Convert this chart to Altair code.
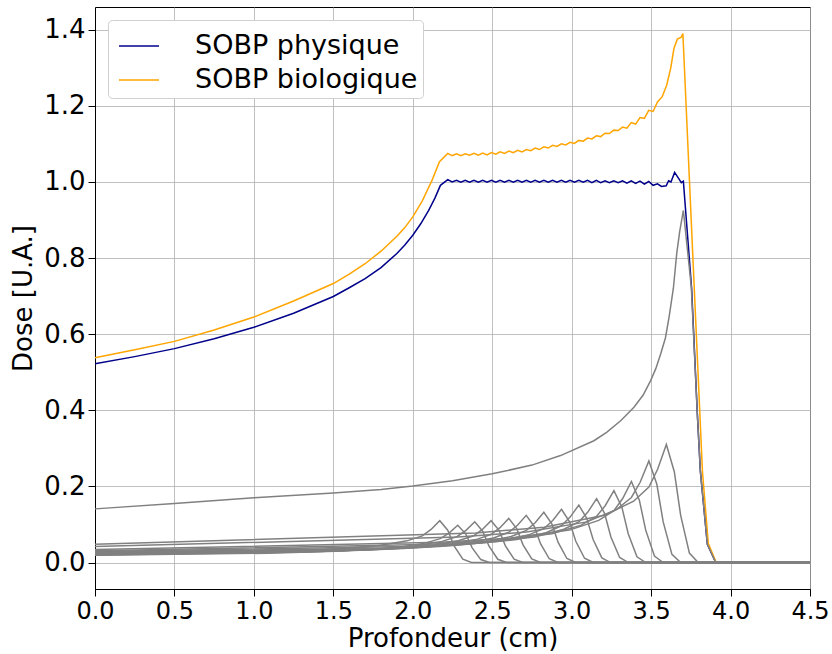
import altair as alt
import pandas as pd

# ---------------- data ----------------
SERIES = ["SOBP physique", "SOBP biologique"]
SERIES_COLORS = ["#00008b", "#ffa500"]

PLATEAU_X = [2.22, 2.2475, 2.275, 2.3025, 2.33, 2.3575, 2.385, 2.4125, 2.44, 2.4675,
             2.495, 2.5225, 2.55, 2.5775, 2.605, 2.6325, 2.66, 2.6875, 2.715, 2.7425,
             2.77, 2.7975, 2.825, 2.8525, 2.88, 2.9075, 2.935, 2.9625, 2.99, 3.0175,
             3.045, 3.0725, 3.1, 3.1275, 3.155, 3.1825, 3.21, 3.2375, 3.265, 3.2925,
             3.32, 3.3475, 3.375, 3.4025, 3.43, 3.4575, 3.485, 3.5125, 3.54]

BLUE_RISE_X = [0.0, 0.25, 0.5, 0.75, 1.0, 1.25, 1.5, 1.6, 1.7, 1.8, 1.9, 1.95, 2.0, 2.05, 2.1, 2.14, 2.174]
BLUE_RISE_Y = [0.522, 0.541, 0.562, 0.588, 0.618, 0.655, 0.699, 0.722, 0.746, 0.775, 0.812, 0.834,
               0.860, 0.890, 0.925, 0.958, 0.991]
BLUE_PLATEAU_Y = [1.006, 1.000, 1.004, 0.999, 1.004, 0.999, 1.004, 0.999, 1.004, 0.999,
                  1.004, 0.999, 1.004, 0.999, 1.004, 0.999, 1.004, 0.999, 1.004, 0.999,
                  1.004, 0.999, 1.004, 0.999, 1.004, 0.999, 1.004, 0.999, 1.004, 0.999,
                  1.004, 0.999, 1.004, 0.998, 1.004, 0.998, 1.003, 0.998, 1.003, 0.998,
                  1.003, 0.997, 1.003, 0.996, 1.002, 0.994, 1.001, 0.991, 0.995]
BLUE_END_X = [3.565, 3.595, 3.61, 3.625, 3.648, 3.675, 3.69, 3.703, 3.755, 3.791, 3.81, 3.854, 3.907, 4.5]
BLUE_END_Y = [0.988, 0.990, 1.003, 1.000, 1.025, 1.008, 0.998, 1.002, 0.72, 0.39, 0.24, 0.048, 0.0, 0.0]

ORANGE_RISE_X = [0.0, 0.25, 0.5, 0.75, 1.0, 1.25, 1.5, 1.6, 1.7, 1.8, 1.9, 1.95, 2.0, 2.06, 2.121, 2.168]
ORANGE_RISE_Y = [0.538, 0.559, 0.581, 0.611, 0.645, 0.687, 0.733, 0.758, 0.785, 0.818, 0.857, 0.880,
                 0.908, 0.950, 1.004, 1.053]
ORANGE_PLATEAU_Y = [1.075, 1.069, 1.074, 1.069, 1.074, 1.070, 1.075, 1.070, 1.076, 1.071,
                    1.077, 1.073, 1.079, 1.075, 1.081, 1.077, 1.083, 1.079, 1.085, 1.082,
                    1.089, 1.085, 1.092, 1.089, 1.096, 1.093, 1.100, 1.097, 1.104, 1.101,
                    1.109, 1.107, 1.115, 1.113, 1.121, 1.119, 1.128, 1.127, 1.136, 1.135,
                    1.144, 1.141, 1.156, 1.152, 1.169, 1.167, 1.188, 1.185, 1.210]
ORANGE_END_X = [3.57, 3.598, 3.623, 3.644, 3.665, 3.69, 3.70, 3.823, 3.86, 3.91, 4.5]
ORANGE_END_Y = [1.224, 1.254, 1.298, 1.351, 1.375, 1.380, 1.390, 0.24, 0.05, 0.0, 0.0]

# pristine Bragg peaks (grey)
GRAY_X = [
    [0, 0.970, 1.400, 1.780, 1.964, 2.060, 2.115, 2.170, 2.220, 2.260, 2.315, 2.370, 4.5],
    [0, 1.083, 1.513, 1.893, 2.077, 2.173, 2.228, 2.283, 2.333, 2.373, 2.428, 2.483, 4.5],
    [0, 1.190, 1.620, 2.000, 2.184, 2.280, 2.335, 2.390, 2.440, 2.480, 2.535, 2.590, 4.5],
    [0, 1.293, 1.723, 2.103, 2.287, 2.383, 2.438, 2.493, 2.543, 2.583, 2.638, 2.693, 4.5],
    [0, 1.404, 1.834, 2.214, 2.398, 2.494, 2.549, 2.604, 2.654, 2.694, 2.749, 2.804, 4.5],
    [0, 1.514, 1.944, 2.324, 2.508, 2.604, 2.659, 2.714, 2.764, 2.804, 2.859, 2.914, 4.5],
    [0, 1.625, 2.055, 2.435, 2.619, 2.715, 2.770, 2.825, 2.875, 2.915, 2.970, 3.025, 4.5],
    [0, 1.736, 2.166, 2.546, 2.730, 2.826, 2.881, 2.936, 2.986, 3.026, 3.081, 3.136, 4.5],
    [0, 1.845, 2.275, 2.655, 2.839, 2.935, 2.990, 3.045, 3.095, 3.135, 3.190, 3.245, 4.5],
    [0, 1.957, 2.387, 2.767, 2.951, 3.047, 3.102, 3.157, 3.207, 3.247, 3.302, 3.357, 4.5],
    [0, 2.066, 2.496, 2.876, 3.060, 3.156, 3.211, 3.266, 3.316, 3.356, 3.411, 3.466, 4.5],
    [0, 2.176, 2.606, 2.986, 3.170, 3.266, 3.321, 3.376, 3.426, 3.466, 3.521, 3.576, 4.5],
    [0, 2.286, 2.716, 3.096, 3.280, 3.376, 3.431, 3.486, 3.536, 3.576, 3.631, 3.686, 4.5],
    [0, 2.396, 2.826, 3.206, 3.390, 3.486, 3.541, 3.596, 3.646, 3.686, 3.741, 3.796, 4.5],
    [0, 0.5, 1.0, 1.5, 1.8, 2.0, 2.25, 2.5, 2.75, 2.93, 3.14, 3.22, 3.31, 3.392, 3.45, 3.497,
     3.53, 3.56, 3.59, 3.613, 3.64, 3.661, 3.68, 3.703, 3.753, 3.791, 3.81, 3.854, 3.907, 4.5],
]
GRAY_Y = [
    [0.020, 0.028, 0.033, 0.044, 0.057, 0.070, 0.087, 0.110, 0.085, 0.044, 0.009, 0, 0],
    [0.019, 0.0245, 0.0294, 0.0392, 0.051, 0.0627, 0.0774, 0.098, 0.0755, 0.0392, 0.0078, 0, 0],
    [0.020, 0.0268, 0.0321, 0.0428, 0.0556, 0.0685, 0.0845, 0.107, 0.0824, 0.0428, 0.0086, 0, 0],
    [0.021, 0.0275, 0.033, 0.044, 0.0572, 0.0704, 0.0869, 0.110, 0.0847, 0.044, 0.0088, 0, 0],
    [0.022, 0.029, 0.0348, 0.0464, 0.0603, 0.0742, 0.0916, 0.116, 0.0893, 0.0464, 0.0093, 0, 0],
    [0.023, 0.031, 0.0372, 0.0496, 0.0645, 0.0794, 0.098, 0.124, 0.0955, 0.0496, 0.0099, 0, 0],
    [0.024, 0.033, 0.0396, 0.0528, 0.0686, 0.0845, 0.1043, 0.132, 0.1016, 0.0528, 0.0106, 0, 0],
    [0.025, 0.035, 0.042, 0.056, 0.0728, 0.0896, 0.1106, 0.140, 0.1078, 0.056, 0.0112, 0, 0],
    [0.027, 0.0378, 0.0453, 0.0604, 0.0785, 0.0966, 0.1193, 0.151, 0.1163, 0.0604, 0.0121, 0, 0],
    [0.029, 0.042, 0.0504, 0.0672, 0.0874, 0.1075, 0.1327, 0.168, 0.1294, 0.0672, 0.0134, 0, 0],
    [0.031, 0.0473, 0.0567, 0.0756, 0.0983, 0.121, 0.1493, 0.189, 0.1455, 0.0756, 0.0151, 0, 0],
    [0.034, 0.0533, 0.0639, 0.0852, 0.1108, 0.1363, 0.1683, 0.213, 0.164, 0.0852, 0.017, 0, 0],
    [0.042, 0.0668, 0.0801, 0.1068, 0.1388, 0.1709, 0.2109, 0.267, 0.2056, 0.1068, 0.0214, 0, 0],
    [0.048, 0.0775, 0.093, 0.124, 0.1612, 0.1984, 0.2449, 0.310, 0.2387, 0.124, 0.0248, 0, 0],
    [0.141, 0.155, 0.170, 0.183, 0.192, 0.201, 0.215, 0.233, 0.256, 0.281, 0.320, 0.342, 0.373,
     0.408, 0.440, 0.478, 0.510, 0.548, 0.590, 0.645, 0.720, 0.811, 0.870, 0.925, 0.724, 0.39,
     0.24, 0.048, 0.0, 0.0],
]

X_TICKS = [0.0, 0.5, 1.0, 1.5, 2.0, 2.5, 3.0, 3.5, 4.0, 4.5]
Y_TICKS = [0.0, 0.2, 0.4, 0.6, 0.8, 1.0, 1.2, 1.4]
X_DOMAIN = [0.0, 4.5]
Y_DOMAIN = [-0.0695, 1.4595]

# ---------------- tables ----------------
rows = []
for name, xs, ys in [
    (SERIES[0], BLUE_RISE_X + PLATEAU_X + BLUE_END_X, BLUE_RISE_Y + BLUE_PLATEAU_Y + BLUE_END_Y),
    (SERIES[1], ORANGE_RISE_X + PLATEAU_X + ORANGE_END_X, ORANGE_RISE_Y + ORANGE_PLATEAU_Y + ORANGE_END_Y),
]:
    assert len(xs) == len(ys), name
    for i, (x, y) in enumerate(zip(xs, ys)):
        rows.append({"x": x, "y": y, "serie": name, "o": i})
sobp = pd.DataFrame(rows)

grows = []
for k, (xs, ys) in enumerate(zip(GRAY_X, GRAY_Y)):
    assert len(xs) == len(ys), k
    for i, (x, y) in enumerate(zip(xs, ys)):
        grows.append({"x": x, "y": y, "curve": k, "o": i})
gray = pd.DataFrame(grows)

FONT = "DejaVu Sans"
FS = 26

x_enc = alt.X("x:Q", scale=alt.Scale(domain=X_DOMAIN, nice=False, zero=False),
              axis=alt.Axis(values=X_TICKS, format=".1f", title="Profondeur (cm)",
                            labelFlush=False, labelFontSize=24, titlePadding=2))
y_enc = alt.Y("y:Q", scale=alt.Scale(domain=Y_DOMAIN, nice=False, zero=False),
              axis=alt.Axis(values=Y_TICKS, format=".1f", title="Dose [U.A.]",
                            labelFlush=False, titlePadding=7))

sobp_layer = alt.Chart(sobp).mark_line(strokeWidth=1.5).encode(
    x=x_enc, y=y_enc, order="o:Q",
    color=alt.Color("serie:N",
                    scale=alt.Scale(domain=SERIES, range=SERIES_COLORS),
                    legend=alt.Legend(
                        title=None, orient="none", legendX=13, legendY=13,
                        direction="vertical", symbolType="stroke",
                        symbolSize=1600, symbolStrokeWidth=1.5, symbolOffset=5,
                        labelFontSize=27, labelFont=FONT, labelColor="black",
                        labelOffset=35, labelLimit=500, padding=5, rowPadding=-2,
                        fillColor="white", strokeColor="#d0d0d0", cornerRadius=4,
                    )),
)

gray_layer = alt.Chart(gray).mark_line(strokeWidth=1.5, color="#808080").encode(
    x=x_enc, y=y_enc, detail="curve:N", order="o:Q",
)

chart = alt.layer(sobp_layer, gray_layer).properties(
    width=715, height=582,
    autosize=alt.AutoSizeParams(type="none"),
    padding={"left": 95, "top": 7, "right": 22, "bottom": 65},
).configure_view(
    stroke="black", strokeWidth=1,
).configure_axis(
    labelFont=FONT, titleFont=FONT, labelFontSize=FS, titleFontSize=FS,
    labelColor="black", titleColor="black", titleFontWeight="normal",
    tickColor="black", domainColor="black", tickSize=7, tickWidth=1,
    gridColor="#b0b0b0", gridWidth=0.8, labelPadding=3,
)

chart.save("out.html", embed_options={"renderer": "svg", "actions": False})
